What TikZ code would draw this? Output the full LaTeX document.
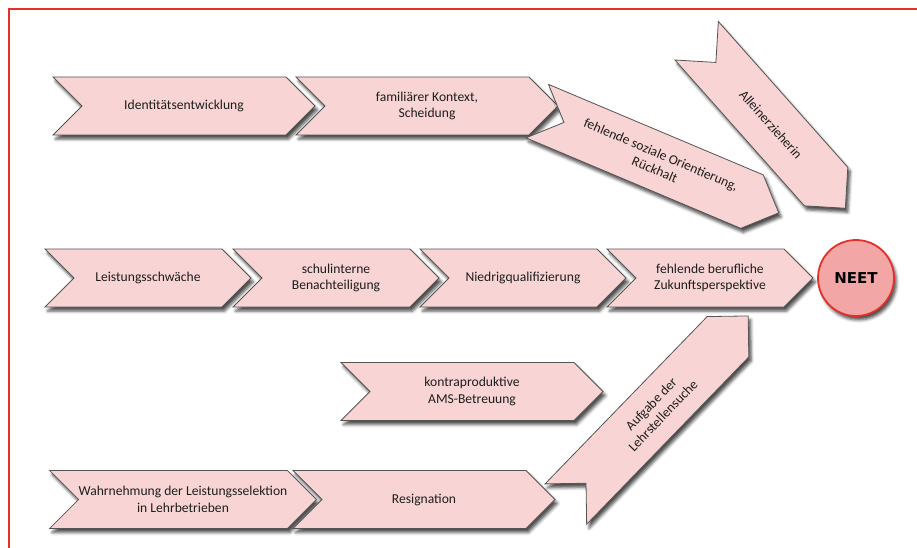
\documentclass[tikz,border=0pt]{standalone}
\usepackage{fontspec}
\setmainfont{Carlito}
\newfontfamily\neetfont{DejaVu Sans}
\usepackage{tikz}
\usetikzlibrary{shapes.symbols, shapes.geometric, positioning, shadows, shadows.blur}
\definecolor{SoftPink}{HTML}{F8D4D4}
\definecolor{DeepRose}{HTML}{F2A6A6}
\definecolor{AlertRed}{HTML}{E3302B}
\definecolor{SlateGray}{HTML}{555555}
\definecolor{InkBlack}{HTML}{1E1E1E}

\tikzset{
  softshadow/.style={blur shadow={shadow xshift=2.5pt, shadow yshift=-4pt,
    shadow blur radius=3pt, shadow opacity=70}},
  cause/.style={signal, signal to=east, signal from=west, signal pointer angle=90,
    draw=SlateGray, line width=0.8pt, fill=SoftPink, text=InkBlack,
    align=center, inner sep=0pt, minimum height=58, minimum width=262,
    font=\fontsize{13.6}{16.5}\selectfont, softshadow},
  shortcause/.style={cause, minimum width=206},
}

\begin{document}
\begin{tikzpicture}[x=1pt, y=-1pt]
    \useasboundingbox (0,0) rectangle (917,548);
    \draw[AlertRed, line width=1.2pt] (9,548) -- (9,9) -- (917,9);

    % family and social background
    \node[cause] (ident) at (184,106) {Identitätsentwicklung};
    \node[cause] (family) at (427,106) {familiärer Kontext,\\Scheidung};
    \node[cause, rotate=-22.85] (social) at (658,162) {fehlende soziale Orientierung,\\Rückhalt};
    \node[cause, rotate=-48.4, minimum width=224] (single) at (771,124.5) {Alleinerzieherin};

    % school path towards NEET
    \foreach \n/\x/\t in {weak/148/Leistungsschwäche, school/336/{schulinterne\\Benachteiligung},
        lowqual/523/Niedrigqualifizierung, career/710/{fehlende berufliche\\Zukunftsperspektive}} {
        \node[shortcause] (\n) at (\x,278) {\t};
    }
    \node[circle, draw=AlertRed, line width=1.8pt, fill=DeepRose, minimum size=76, text=black,
        font=\neetfont\bfseries\fontsize{15}{18}\selectfont, softshadow]
        (neet) at (856,278) {NEET};

    % apprenticeship search
    \node[cause] (ams) at (472,391.5) {kontraproduktive\\AMS-Betreuung};
    \node[cause] (select) at (183,499.5) {Wahrnehmung der Leistungsselektion\\in Lehrbetrieben};
    \node[cause] (resign) at (424,499.5) {Resignation};
    \node[cause, rotate=45.9] (quit) at (657,410) {Aufgabe der\\Lehrstellensuche};
\end{tikzpicture}
\end{document}
